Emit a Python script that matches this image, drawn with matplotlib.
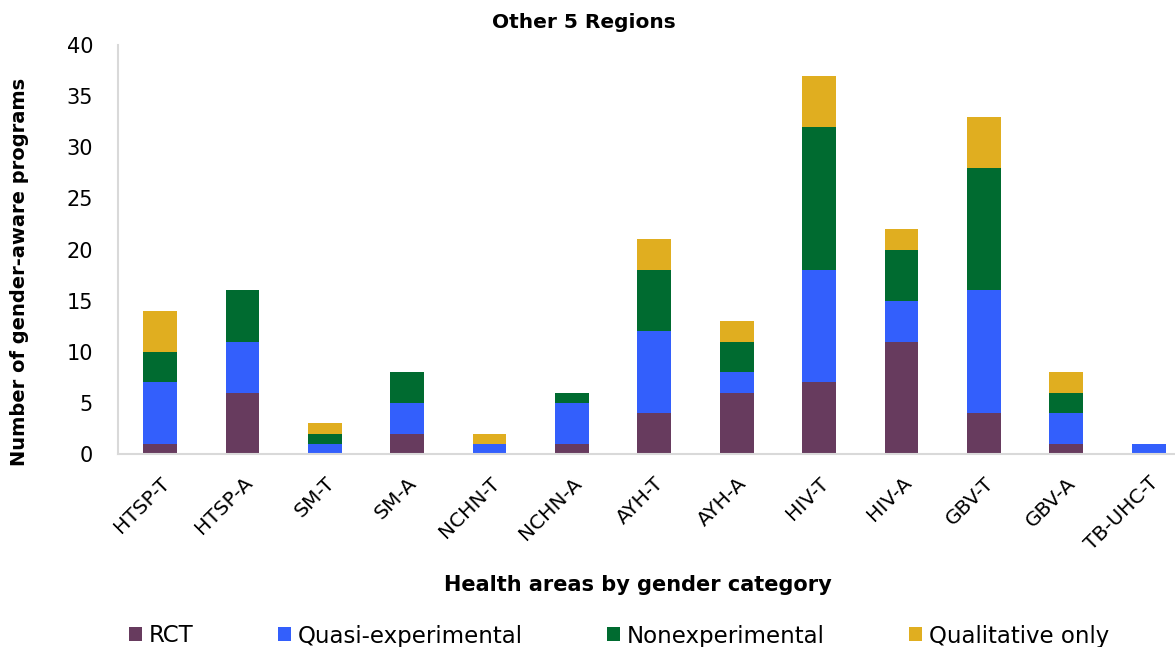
import numpy as np
import matplotlib
matplotlib.use('Agg')
import matplotlib.pyplot as plt

categories = ['HTSP-T', 'HTSP-A', 'SM-T', 'SM-A', 'NCHN-T', 'NCHN-A', 'AYH-T',
              'AYH-A', 'HIV-T', 'HIV-A', 'GBV-T', 'GBV-A', 'TB-UHC-T']
rct = [1, 6, 0, 2, 0, 1, 4, 6, 7, 11, 4, 1, 0]
quasi = [6, 5, 1, 3, 1, 4, 8, 2, 11, 4, 12, 3, 1]
nonexp = [3, 5, 1, 3, 0, 1, 6, 3, 14, 5, 12, 2, 0]
qual = [4, 0, 1, 0, 1, 0, 3, 2, 5, 2, 5, 2, 0]

series = ['RCT', 'Quasi-experimental', 'Nonexperimental', 'Qualitative only']
colors = ['#673b5e', '#335ffc', '#006b30', '#e0ae20']

plt.rcParams['font.family'] = 'DejaVu Sans'

fig = plt.figure(figsize=(11.75, 6.47), dpi=100)
ax = fig.add_axes([118 / 1175, 1 - 454 / 647, (1175 - 118) / 1175, (454 - 45) / 647])

x = np.arange(len(categories))
bottom = np.zeros(len(categories))
for vals, name, c in zip([rct, quasi, nonexp, qual], series, colors):
    ax.bar(x, vals, 0.41, bottom=bottom, color=c, label=name)
    bottom += np.array(vals)

ax.set_ylim(0, 40)
ax.set_xlim(-0.51, 12.32)
ax.set_yticks(range(0, 41, 5))
ax.set_xticks(x)
ax.set_xticklabels(categories, rotation=45, ha='right', rotation_mode='anchor', fontsize=14.5)
ax.tick_params(axis='y', length=0, pad=18, labelsize=15)
ax.tick_params(axis='x', length=0, pad=14)

for s in ['top', 'right']:
    ax.spines[s].set_visible(False)
for s in ['left', 'bottom']:
    ax.spines[s].set_color('#d9d9d9')
    ax.spines[s].set_linewidth(1.5)

fig.text(584 / 1175, 1 - 22 / 647, 'Other 5 Regions', ha='center', va='center',
         fontsize=14.5, fontweight='bold')
fig.text(20 / 1175, 1 - 272 / 647, 'Number of gender-aware programs', rotation=90,
         ha='center', va='center', fontsize=14, fontweight='bold')
fig.text(638 / 1175, 1 - 585 / 647, 'Health areas by gender category',
         ha='center', va='center', fontsize=15, fontweight='bold')

fig.legend(loc='center', bbox_to_anchor=(619 / 1175, 1 - 636 / 647), ncol=4,
           frameon=False, fontsize=16.5, handlelength=0.55, handleheight=0.55,
           handletextpad=0.3, columnspacing=3.7)

fig.savefig('out.png', dpi=100)
